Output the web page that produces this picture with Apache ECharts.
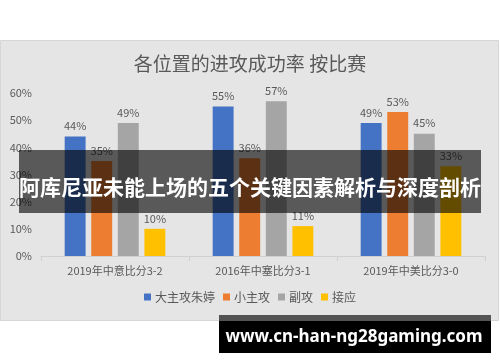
<!DOCTYPE html>
<html>
<head>
<meta charset="utf-8">
<script src="https://cdn.jsdelivr.net/npm/echarts@6/dist/echarts.min.js"></script>
<style>
html,body{margin:0;padding:0;background:#fff;}
#c{width:500px;height:362px;}
</style>
</head>
<body>
<div id="c"></div>
<script>
const categories = ['2019年中意比分3-2', '2016年中塞比分3-1', '2019年中美比分3-0'];
const seriesNames = ['大主攻朱婷', '小主攻', '副攻', '接应'];
const mainAttack = [44, 55, 49];
const secondAttack = [35, 36, 53];
const middle = [49, 57, 45];
const opposite = [10, 11, 33];
const yTicks = [0, 10, 20, 30, 40, 50, 60];
const colors = ['#4472C4', '#ED7D31', '#A5A5A5', '#FFC000'];
const titleText = '各位置的进攻成功率 按比赛';
const bannerText = '阿库尼亚未能上场的五个关键因素解析与深度剖析';
const watermarkText = 'www.cn-han-ng28gaming.com';

const FONT = '"Noto Sans CJK SC", "Noto Sans", sans-serif';
const values = [mainAttack, secondAttack, middle, opposite];

const chart = echarts.init(document.getElementById('c'), null, {renderer: 'canvas'});
chart.setOption({
  animation: false,
  textStyle: {fontFamily: FONT},
  title: {
    text: titleText, left: 'center', top: 49,
    textStyle: {fontSize: 19, fontWeight: 'normal', color: '#595959', fontFamily: FONT}
  },
  legend: {
    data: seriesNames, bottom: 54, left: 'center',
    itemWidth: 7, itemHeight: 7, itemGap: 8, icon: 'rect',
    textStyle: {fontSize: 12, color: '#595959', fontFamily: FONT, padding: [0, 0, 0, -1]}
  },
  grid: {left: 41, right: 15, top: 93, bottom: 106, containLabel: false},
  xAxis: {
    type: 'category', data: categories,
    axisLine: {lineStyle: {color: '#d0d0d0'}},
    axisTick: {show: true, length: 5, lineStyle: {color: '#d0d0d0'}},
    axisLabel: {fontSize: 11, color: '#595959', margin: 9, fontFamily: FONT}
  },
  yAxis: {
    type: 'value', min: yTicks[0], max: yTicks[yTicks.length - 1], interval: 10,
    axisLine: {show: false}, axisTick: {show: false},
    splitLine: {show: false},
    axisLabel: {fontSize: 11, color: '#595959', margin: 9, formatter: v => v + '%', fontFamily: FONT}
  },
  series: seriesNames.map((n, i) => ({
    name: n, type: 'bar', data: values[i],
    barGap: '27%', barCategoryGap: '32%',
    itemStyle: {color: colors[i]},
    label: {show: true, position: 'top', distance: 5, formatter: p => p.value + '%', fontSize: 11, color: '#595959', fontFamily: FONT}
  })),
  graphic: [
    {type: 'rect', z: -10, silent: true, shape: {x: 0.5, y: 40.5, width: 498, height: 280},
     style: {fill: '#e5e5e5', stroke: '#d6d6d6', lineWidth: 1}},
    {type: 'rect', z: 100, silent: true, shape: {x: 19, y: 150, width: 462, height: 63},
     style: {fill: 'rgba(0,0,0,0.61)'}},
    {type: 'text', z: 101, silent: true, x: 250, y: 187,
     style: {text: bannerText, fill: '#fff', font: 'bold 21px ' + FONT, textAlign: 'center', textVerticalAlign: 'middle'}},
    {type: 'rect', z: 100, silent: true, shape: {x: 219, y: 315, width: 272, height: 6},
     style: {fill: '#545454'}},
    {type: 'rect', z: 100, silent: true, shape: {x: 219, y: 321, width: 272, height: 32},
     style: {fill: '#000'}},
    {type: 'text', z: 101, silent: true, x: 354, y: 337,
     style: {text: watermarkText, fill: '#fff', font: 'bold 17px "Noto Sans", sans-serif', textAlign: 'center', textVerticalAlign: 'middle'}}
  ]
});
</script>
</body>
</html>
